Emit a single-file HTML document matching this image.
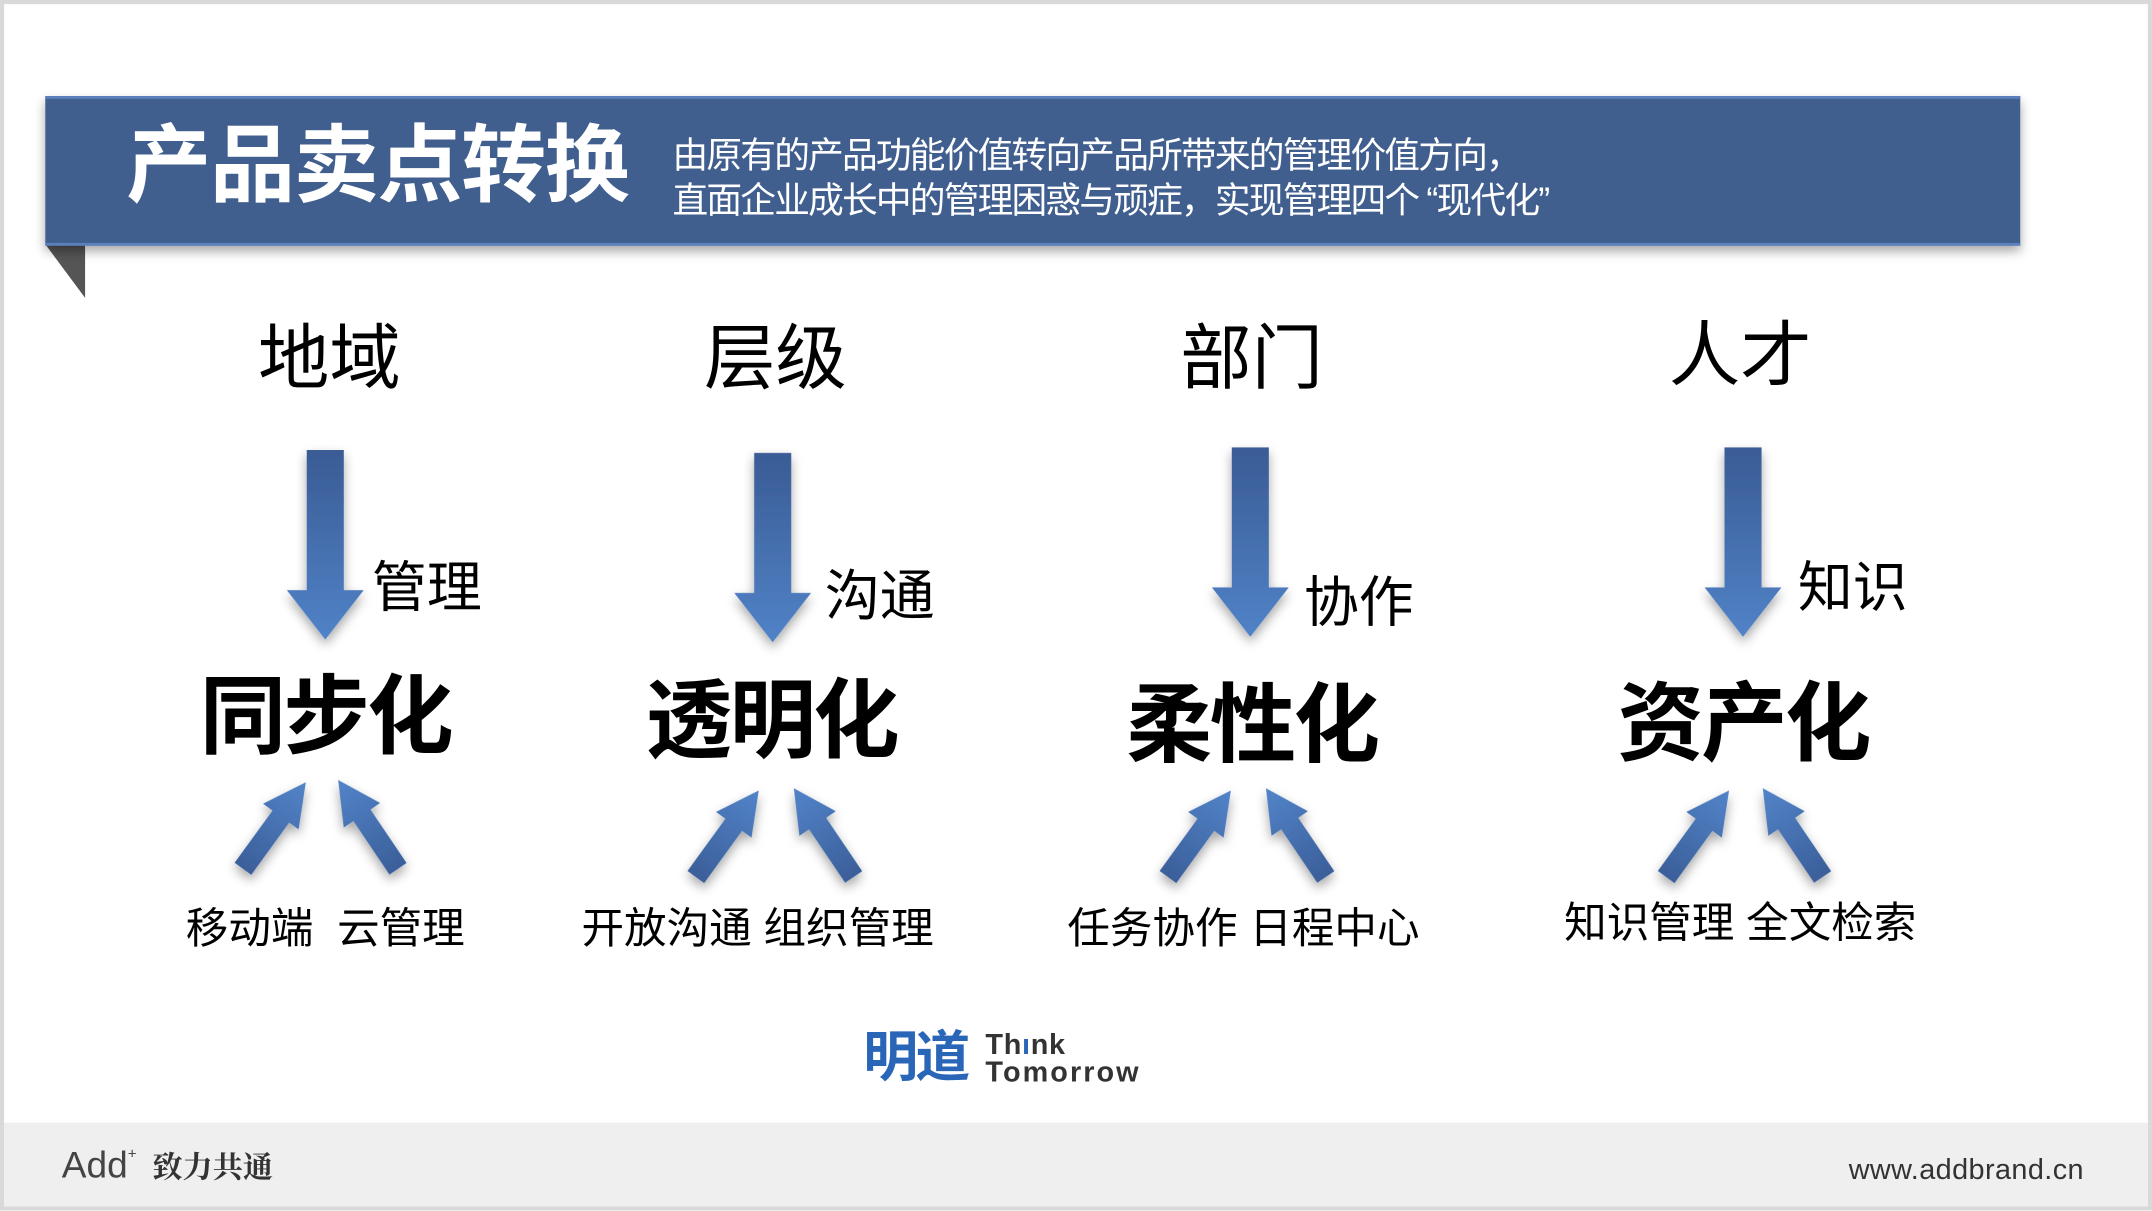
<!DOCTYPE html>
<html><head><meta charset="utf-8">
<style>
html,body{margin:0;padding:0;background:#fff;}
body{width:2152px;height:1210px;overflow:hidden;position:relative;}
#s{position:absolute;left:0;top:0;width:1568px;height:882px;transform:scale(1.37245);transform-origin:0 0;font-family:"Liberation Sans","Noto Sans CJK SC",sans-serif;}
.t{position:absolute;white-space:nowrap;line-height:1;}
</style></head><body>
<div id="s">
<div style="position:absolute;left:0;top:0;width:1568px;height:882px;box-sizing:border-box;border:3px solid #d9d9d9;"></div>
<div style="position:absolute;left:3px;top:818px;width:1562px;height:61px;background:#efefef;"></div>
<svg width="1568" height="882" style="position:absolute;left:0;top:0">
<defs>
<linearGradient id="gd" x1="0" y1="0" x2="0" y2="1"><stop offset="0" stop-color="#3a5c95"/><stop offset="1" stop-color="#5183c8"/></linearGradient>
<linearGradient id="gu" x1="0" y1="0" x2="0" y2="1"><stop offset="0" stop-color="#5384c9"/><stop offset="1" stop-color="#3b5f9a"/></linearGradient>
<filter id="sh" x="-10%" y="-10%" width="120%" height="140%"><feDropShadow dx="0" dy="4" stdDeviation="4" flood-color="#000" flood-opacity="0.35"/></filter>
<g id="dn"><polygon points="-13.5,0 13.5,0 13.5,102 28,102 0,138 -28,102 -13.5,102" fill="url(#gd)"/></g>
<g id="up"><polygon points="-7.5,0 7.5,0 7.5,-47 16,-47 0,-78 -16,-47 -7.5,-47" fill="url(#gu)"/></g>
</defs>
<polygon points="33,178 62,178 62,217" fill="#555"/>
<rect x="33" y="70" width="1439" height="109" fill="#405f8e" filter="url(#sh)"/>
<rect x="33" y="70" width="1439" height="2" fill="#5a80bd"/>
<rect x="33" y="177" width="1439" height="2" fill="#5a80bd"/>
<g filter="url(#sh)">
<use href="#dn" x="237" y="328"/>
<use href="#dn" x="563" y="330"/>
<use href="#dn" x="911" y="326"/>
<use href="#dn" x="1270" y="326"/>
<use href="#up" transform="translate(177,633) rotate(36)"/>
<use href="#up" transform="translate(290,633) rotate(-34)"/>
<use href="#up" transform="translate(507,639) rotate(36)"/>
<use href="#up" transform="translate(622,639) rotate(-34)"/>
<use href="#up" transform="translate(851,639) rotate(36)"/>
<use href="#up" transform="translate(966,639) rotate(-34)"/>
<use href="#up" transform="translate(1214,639) rotate(36)"/>
<use href="#up" transform="translate(1328,639) rotate(-34)"/>
</g>
</svg>
<div class="t" style="left:92px;top:91px;font-size:62px;font-weight:bold;color:#fff;letter-spacing:-1px;">产品卖点转换</div>
<div class="t" style="left:490px;top:97px;font-size:26px;color:#fff;line-height:33px;letter-spacing:-1.3px;">由原有的产品功能价值转向产品所带来的管理价值方向，<br>直面企业成长中的管理困惑与顽症，实现管理四个 “现代化”</div>

<div class="t" style="left:240px;top:236px;font-size:52px;transform:translateX(-50%);">地域</div>
<div class="t" style="left:565px;top:236px;font-size:52px;transform:translateX(-50%);">层级</div>
<div class="t" style="left:912px;top:236px;font-size:52px;transform:translateX(-50%);">部门</div>
<div class="t" style="left:1268px;top:234px;font-size:52px;transform:translateX(-50%);">人才</div>

<div class="t" style="left:271px;top:409px;font-size:40px;">管理</div>
<div class="t" style="left:601px;top:415px;font-size:40px;">沟通</div>
<div class="t" style="left:950px;top:420px;font-size:40px;">协作</div>
<div class="t" style="left:1310px;top:409px;font-size:40px;">知识</div>

<div class="t" style="left:237px;top:492px;font-size:63px;font-weight:bold;letter-spacing:-2px;transform:translateX(-50%);">同步化</div>
<div class="t" style="left:562px;top:495px;font-size:63px;font-weight:bold;letter-spacing:-2px;transform:translateX(-50%);">透明化</div>
<div class="t" style="left:912px;top:498px;font-size:63px;font-weight:bold;letter-spacing:-2px;transform:translateX(-50%);">柔性化</div>
<div class="t" style="left:1270px;top:497px;font-size:63px;font-weight:bold;letter-spacing:-2px;transform:translateX(-50%);">资产化</div>

<div class="t" style="left:237px;top:661px;font-size:31px;transform:translateX(-50%);">移动端&nbsp; 云管理</div>
<div class="t" style="left:552px;top:661px;font-size:31px;transform:translateX(-50%);">开放沟通 组织管理</div>
<div class="t" style="left:906px;top:661px;font-size:31px;transform:translateX(-50%);">任务协作 日程中心</div>
<div class="t" style="left:1268px;top:657px;font-size:31px;transform:translateX(-50%);">知识管理 全文检索</div>

<div class="t" style="left:629px;top:751px;font-size:40px;font-weight:bold;color:#2a66b8;letter-spacing:-2px;">明道</div>
<div class="t" style="left:718px;top:751px;font-size:21px;font-weight:bold;color:#333;letter-spacing:0.5px;">Th<span style="color:#2a66b8">ı</span>nk</div>
<div class="t" style="left:718px;top:771px;font-size:21px;font-weight:bold;color:#333;letter-spacing:1.5px;">Tomorrow</div>

<div class="t" style="left:45px;top:836px;font-size:27px;color:#444;font-weight:300;">Add<sup style="font-size:11px;vertical-align:14px;">+</sup></div>
<div class="t" style="left:111px;top:839px;font-size:22px;color:#333;font-weight:bold;font-family:'Noto Serif CJK SC',serif;">致力共通</div>
<div class="t" style="left:1347px;top:842px;font-size:21px;color:#333;letter-spacing:0.3px;">www.addbrand.cn</div>
</div>
</body></html>
